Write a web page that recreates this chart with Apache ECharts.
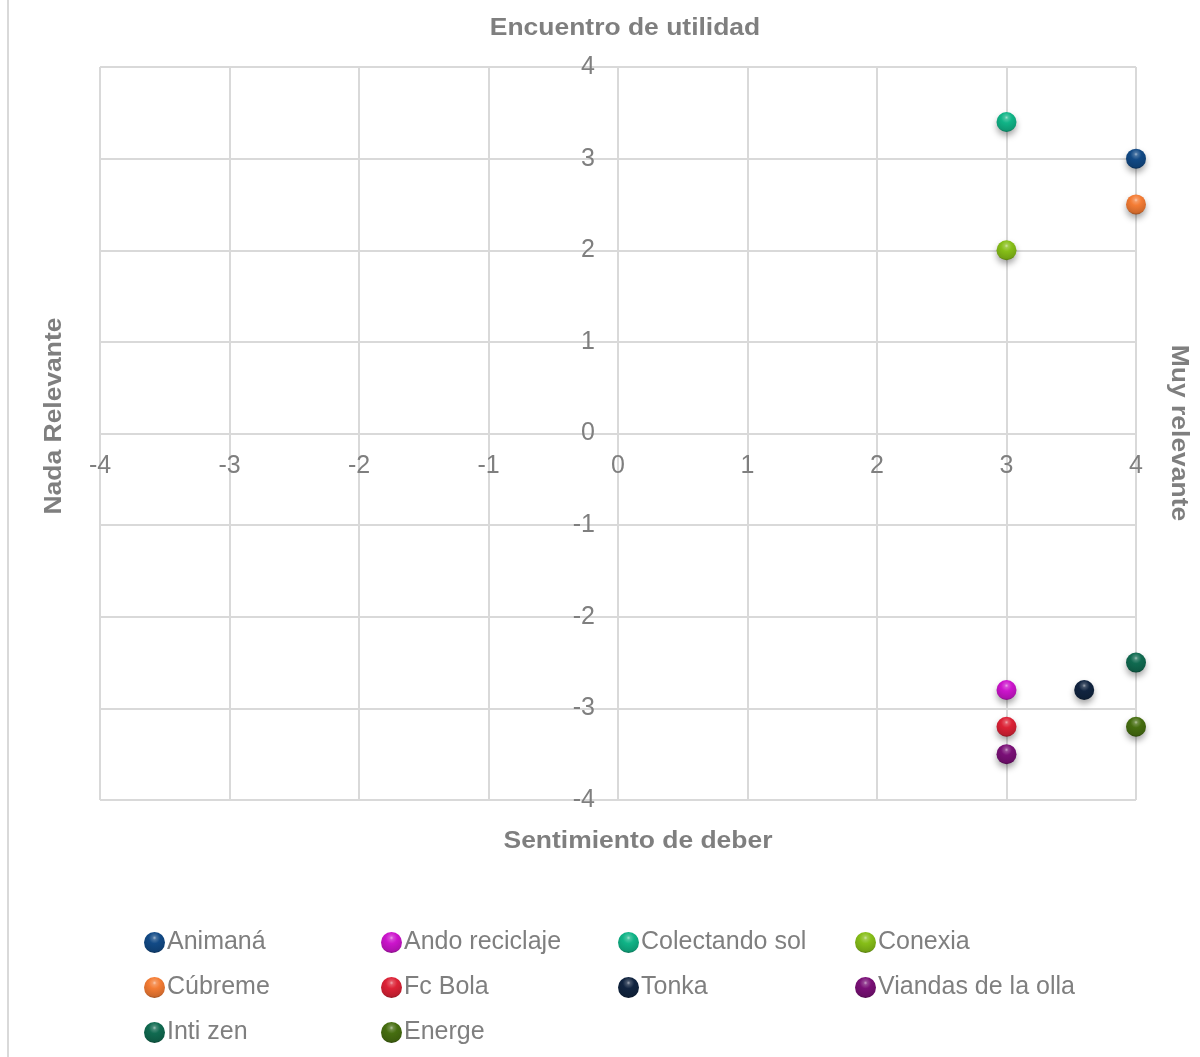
<!DOCTYPE html>
<html>
<head>
<meta charset="utf-8">
<script src="https://cdn.jsdelivr.net/npm/echarts@6/dist/echarts.min.js"></script>
<style>
  html, body { margin: 0; padding: 0; background: #fff; }
  #chart { width: 1200px; height: 1057px; }
</style>
</head>
<body>
<div id="chart"></div>
<script>
// Project names and their position on the two rating dimensions
const names = ['Animaná', 'Ando reciclaje', 'Colectando sol', 'Conexia', 'Cúbreme',
               'Fc Bola', 'Tonka', 'Viandas de la olla', 'Inti zen', 'Energe'];
const deber    = [4, 3, 3, 3, 4, 3, 3.6, 3, 4, 4];                  // x: Sentimiento de deber
const utilidad = [3, -2.8, 3.4, 2, 2.5, -3.2, -2.8, -3.5, -2.5, -3.2]; // y: Encuentro de utilidad
const colors = ['#124a86', '#cc14cc', '#10b487', '#86be18', '#f47c34',
                '#dc2236', '#112440', '#7a1077', '#106a50', '#466e10'];
const axisTicks = [-4, -3, -2, -1, 0, 1, 2, 3, 4];

const FONT = '"Liberation Sans", Arial, sans-serif';
const GRAY = '#7f7f7f';
const GRID_W = 1036, GRID_H = 733;

function shade(hex, amt) {
  const n = parseInt(hex.slice(1), 16);
  const r = (n >> 16) & 255, g = (n >> 8) & 255, b = n & 255;
  const f = c => Math.max(0, Math.min(255, Math.round(amt > 0 ? c + (255 - c) * amt : c * (1 + amt))));
  return 'rgb(' + f(r) + ',' + f(g) + ',' + f(b) + ')';
}
// glossy ball fill
function sphere(hex) {
  return {
    type: 'radial', x: 0.5, y: 0.28, r: 0.78,
    colorStops: [
      { offset: 0, color: shade(hex, 0.6) },
      { offset: 0.12, color: shade(hex, 0.22) },
      { offset: 0.35, color: hex },
      { offset: 0.8, color: shade(hex, -0.15) },
      { offset: 1, color: shade(hex, -0.5) }
    ]
  };
}

const series = names.map((n, i) => ({
  name: n,
  type: 'scatter',
  symbol: 'circle',
  symbolSize: 20,
  data: [[deber[i], utilidad[i]]],
  itemStyle: {
    color: sphere(colors[i]),
    opacity: 1,
    shadowBlur: 6,
    shadowOffsetY: 4,
    shadowColor: 'rgba(0,0,0,0.35)'
  },
  z: 3
}));

// legend laid out in four fixed columns
const columns = [
  [names[0], names[4], names[8]],
  [names[1], names[5], names[9]],
  [names[2], names[6]],
  [names[3], names[7]]
];
const colX = [139, 376, 613, 850];
const legends = columns.map((col, c) => ({
  orient: 'vertical',
  left: colX[c],
  top: 925,
  itemGap: 20,
  itemWidth: 21,
  itemHeight: 21,
  icon: 'circle',
  data: col,
  selectedMode: false,
  textStyle: { fontFamily: FONT, fontSize: 25, color: GRAY, padding: [0, 0, 0, -3] }
}));

const axisLineStyle = { color: '#d9d9d9', width: 2 };
const labelStyle = { fontFamily: FONT, fontSize: 25, color: GRAY, showMinLabel: true, showMaxLabel: true,
                     formatter: v => axisTicks.includes(v) ? String(v) : '' };

const titleText = (x, y, text, rotation) => ({
  type: 'text', x: x, y: y, rotation: rotation || 0, scaleX: 1.15,
  style: { text: text, font: 'bold 23px ' + FONT, fill: GRAY, textAlign: 'center', textVerticalAlign: 'middle' }
});

const chart = echarts.init(document.getElementById('chart'), null, { renderer: 'canvas' });
chart.setOption({
  animation: false,
  backgroundColor: '#fff',
  grid: { left: 100, right: 64, top: 67, bottom: 257, containLabel: false },
  // both axes cross at the origin, in the middle of the plot area
  xAxis: {
    type: 'value', min: -4, max: 4, interval: 1,
    position: 'bottom', offset: -GRID_H / 2,
    axisLine: { onZero: false, lineStyle: axisLineStyle },
    axisTick: { show: false },
    splitLine: { show: true, lineStyle: axisLineStyle },
    axisLabel: Object.assign({ margin: 20 }, labelStyle)
  },
  yAxis: {
    type: 'value', min: -4, max: 4, interval: 1,
    position: 'left', offset: -GRID_W / 2,
    axisLine: { onZero: false, lineStyle: axisLineStyle },
    axisTick: { show: false },
    splitLine: { show: true, lineStyle: axisLineStyle },
    axisLabel: Object.assign({ margin: 23 }, labelStyle)
  },
  legend: legends,
  graphic: [
    { type: 'line', shape: { x1: 8, y1: 0, x2: 8, y2: 1057 }, style: { stroke: '#d9d9d9', lineWidth: 2 }, silent: true },
    { type: 'line', shape: { x1: 100, y1: 67, x2: 1136, y2: 67 }, style: { stroke: '#d9d9d9', lineWidth: 2 }, silent: true, z: 0 },
    titleText(625, 29, 'Encuentro de utilidad'),
    titleText(638, 842, 'Sentimiento de deber'),
    titleText(55, 416, 'Nada Relevante', Math.PI / 2),
    titleText(1178, 433, 'Muy relevante', -Math.PI / 2)
  ],
  series: series
});
</script>
</body>
</html>
